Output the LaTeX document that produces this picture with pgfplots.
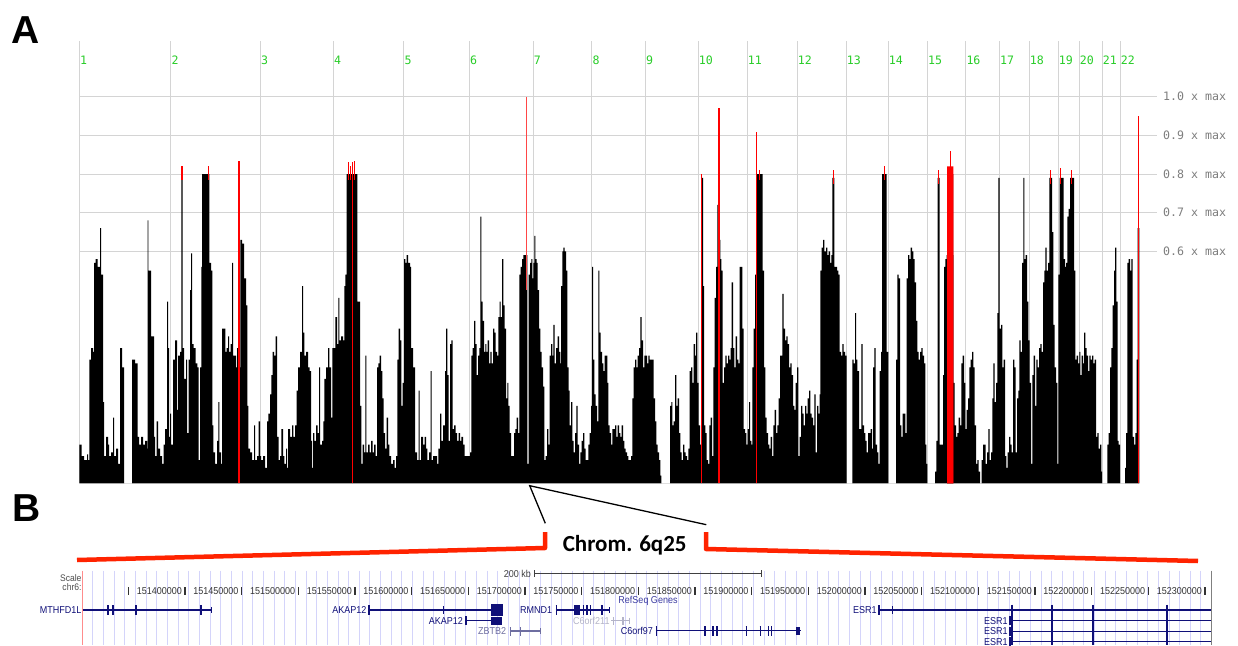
\documentclass[border=0pt]{standalone}
\usepackage{fontspec}
\usepackage{pgfplots}
\usepackage{pgfplotstable}
\pgfplotsset{compat=1.18}
\newfontfamily\monofont{DejaVu Sans Mono}
\newfontfamily\arialfont{Liberation Sans}
\newfontfamily\ucsc[FakeStretch=0.9]{Liberation Sans}
\newfontfamily\calfont{Carlito}
\definecolor{chrgreen}{RGB}{40,205,40}
\definecolor{gridgray}{RGB}{212,212,212}
\definecolor{tickgray}{RGB}{125,125,125}
\definecolor{darkred}{RGB}{140,0,0}
\definecolor{brred}{RGB}{255,35,0}
\definecolor{navy}{RGB}{16,16,120}
\definecolor{lav}{RGB}{212,212,250}
\definecolor{lightgene}{RGB}{180,180,200}
\definecolor{zbcol}{RGB}{110,110,160}
\definecolor{lightred}{RGB}{255,70,70}

\pgfplotstableread{
x y
79.3 0.10
81.5 0.07
84 0.06
87 0.075
88 0.06
89.3 0.32
91 0.35
93 0.34
94 0.57
95.5 0.58
97.5 0.56
100 0.66
101 0.54
103 0.21
104 0.07
106 0.12
108 0.10
109 0.07
111 0.08
113 0.17
114 0.07
116 0.09
118 0.05
120 0.35
122 0.30
124 0
132 0.32
135 0.31
137.5 0.12
139 0.10
141 0.12
143 0.10
145 0.11
147 0.09
147.7 0.68
148.3 0.55
151 0.38
154 0.12
155 0.07
156.7 0.16
158 0.09
160 0.07
162 0.05
163.5 0.10
165 0.14
167 0.47
168 0.35
169 0.12
170 0.18
171 0.10
173 0.32
175 0.37
177 0.19
178 0.33
180 0.34
181.3 0.80
182.7 0.35
184 0.27
186 0.32
187 0.13
188.7 0.32
190 0.50
191 0.595
192 0.36
193.7 0.35
195.7 0.31
197.3 0.30
198.7 0.06
200 0.30
201.3 0.56
202 0.80
209.3 0.57
211 0.55
212.3 0.15
213.3 0.08
215 0.05
217 0.11
218.3 0.21
219.3 0.08
221 0.05
222 0.40
224 0.40
225.3 0.34
226.7 0.35
228 0.38
229 0.34
230.7 0.36
232 0.57
233 0.33
234.3 0.33
236 0.30
237 0.35
238 0.30
240.3 0.63
242 0.62
244 0.53
246 0.46
247.3 0.20
248.3 0.09
250 0.08
252 0.06
254 0.15
255 0.06
257 0.07
258.7 0.16
260 0.07
261 0.06
263 0.07
265 0.04
267 0.16
268.3 0.18
270 0.23
271.3 0.28
272.7 0.34
274 0.33
275.7 0.38
277 0.12
278.7 0.06
280 0.07
281.3 0.14
283 0.07
284.3 0.05
286 0.09
287 0.04
288 0.14
290 0.12
292 0.15
293.3 0.12
295 0.15
296.7 0.24
298 0.30
300 0.34
302 0.51
303 0.39
304.3 0.33
306 0.34
308 0.30
309.7 0.29
311 0.11
312 0.04
313 0.13
314.3 0.11
316 0.15
317.7 0.13
319 0.30
320 0.10
322 0.11
323.3 0.16
324.3 0.27
326 0.30
328 0.35
329.3 0.30
331 0.17
332.3 0.35
334 0.35
335.3 0.43
337 0.36
338.3 0.48
339.3 0.37
341 0.38
343 0.37
344.3 0.51
345.3 0.54
346.7 0.80
357.3 0.47
360 0.20
361.3 0.05
362.7 0.10
364 0.08
365.3 0.33
366.3 0.08
368 0.10
369.7 0.08
371 0.11
372.7 0.08
374 0.10
375.7 0.07
377 0.30
378.3 0.31
379.7 0.33
381 0.29
382.3 0.22
383.7 0.13
385 0.09
386.7 0.17
388 0.10
389.3 0.07
391 0.05
393 0.06
394.7 0.04
396 0.07
397.3 0.32
398.7 0.40
400 0.37
401.3 0.20
402.7 0.26
404 0.58
405.3 0.57
406.7 0.59
408 0.57
410 0.56
411 0.35
413 0.30
415 0.08
417 0.06
418.7 0.24
419.7 0.06
421 0.12
423 0.10
424.7 0.12
426 0.09
427.3 0.06
429 0.08
430.7 0.29
431.7 0.06
433 0.07
435 0.07
437 0.05
438.3 0.09
440 0.18
441.3 0.11
443 0.15
445 0.29
446 0.40
447.3 0.28
448.7 0.11
450 0.36
451.3 0.37
452.7 0.14
454 0.15
455.7 0.13
457 0.11
458.7 0.13
460 0.11
461.3 0.12
463 0.10
464.7 0.07
466 0.07
467.3 0.07
469 0.07
470 0.08
471.3 0.33
472.7 0.35
474 0.42
475.3 0.36
476.7 0.28
478 0.33
479.3 0.35
480.3 0.69
481.3 0.47
482.7 0.42
484 0.34
485.3 0.36
486.3 0.34
487.7 0.37
489 0.31
490.3 0.34
491.7 0.31
493 0.40
494.3 0.39
495.7 0.34
497 0.33
498.3 0.43
499.7 0.47
500.7 0.43
502 0.58
503.3 0.46
504.7 0.40
506 0.22
507.3 0.26
508.3 0.20
509.7 0.13
511 0.07
512.7 0.07
514 0.13
515.3 0.14
516.7 0.17
518 0.13
519.3 0.54
520.7 0.56
522 0.58
523.3 0.59
524.7 0.59
526 0.59
527.3 0.05
528.7 0.54
530 0.57
531.3 0.58
532.3 0.53
533.3 0.57
534.3 0.64
535.3 0.58
536.7 0.57
537.7 0.50
539 0.40
540.3 0.34
541.7 0.30
543 0.25
544.3 0.06
545.7 0.07
547 0.14
548.3 0.10
549.7 0.33
551 0.36
552.3 0.33
553.3 0.41
554.7 0.31
556 0.35
557.7 0.38
559 0.34
560.3 0.31
561 0.51
562.3 0.60
563.3 0.61
564.7 0.60
566 0.55
567.3 0.30
568.7 0.24
569.7 0.15
571 0.21
572.3 0.11
573.7 0.08
575 0.13
576.3 0.20
577.7 0.10
579 0.05
580.3 0.08
581.7 0.11
583 0.13
584.3 0.09
585.7 0.06
587 0.06
588.3 0.10
589.7 0.13
591 0.20
592 0.56
593 0.32
594.3 0.23
595.7 0.20
597 0.16
598.3 0.55
599.3 0.39
600.7 0.34
602 0.31
603.3 0.29
604.7 0.33
606 0.33
607.3 0.26
608.3 0.15
609.7 0.13
611 0.10
612.3 0.14
613.7 0.14
615 0.15
616.3 0.12
617.7 0.15
619 0.13
620.3 0.12
621.7 0.15
623 0.11
624.3 0.09
625.7 0.08
627 0.07
628.3 0.06
629.7 0.06
631 0.07
632.3 0.22
633.7 0.30
635 0.32
636.3 0.30
637.7 0.33
639 0.35
640.3 0.43
641.7 0.37
643 0.30
644.3 0.33
645.7 0.33
647 0.31
648.3 0.33
649.7 0.32
651 0.32
652.3 0.32
653.7 0.22
655 0.16
656.3 0.10
657.7 0.08
659 0.06
660.3 0.02
661.3 0
670 0.20
671.3 0.21
672.3 0.15
673.7 0.16
675 0.28
676.3 0.20
677.7 0.22
679 0.13
680.3 0.08
681.7 0.06
683 0.10
684.3 0.08
685.7 0.07
687 0.06
688.3 0.09
689.7 0.29
691 0.30
692.3 0.26
693.7 0.36
695 0.33
696 0.39
697.3 0.26
698.7 0.15
700 0.10
702 0.79
703 0.51
704 0.15
705.3 0.13
706.7 0.06
708 0.05
709.3 0.15
710.7 0.17
712 0.07
713.3 0.30
714.7 0.48
716 0.56
717.3 0.72
718.7 0.63
720.3 0.58
721.3 0.55
722.7 0.26
724 0.30
725.3 0.33
726.7 0.31
728 0.33
729.3 0.32
730.7 0.35
731.7 0.52
733 0.35
734.3 0.30
735.7 0.38
737 0.32
738.3 0.31
739.7 0.56
741 0.56
742.3 0.40
743.7 0.14
745 0.13
746.3 0.10
747.7 0.14
749 0.21
750 0.11
751.3 0.10
752.3 0.30
753.7 0.40
755 0.54
756.3 0.60
757 0.80
762.7 0.55
764 0.30
765.3 0.17
766.7 0.13
768 0.10
769.3 0.09
770.7 0.12
772 0.07
773.3 0.15
774.7 0.19
776 0.13
777.3 0.15
778.7 0.22
780 0.33
781 0.33
782.3 0.49
783.7 0.40
785 0.37
786.3 0.38
787.7 0.36
789 0.30
790.3 0.31
791.7 0.28
793 0.20
794.3 0.19
795.7 0.26
797 0.30
798.3 0.07
799.7 0.12
801 0.20
802.3 0.18
803.7 0.15
805 0.20
806.3 0.18
807.7 0.22
809 0.24
810.3 0.18
811.7 0.17
813 0.15
814.3 0.23
815.7 0.08
817 0.20
818.3 0.18
819.7 0.23
820.3 0.55
821.7 0.61
823 0.63
824.3 0.60
826 0.61
827.3 0.59
828.7 0.60
830 0.57
831.3 0.59
832.3 0.79
834.3 0.56
835.7 0.56
837 0.55
838.3 0.54
839.7 0.34
841 0.33
842.3 0.36
843.7 0.34
845 0.33
846.7 0
852.3 0.32
853.7 0.31
855 0.44
856 0.32
857.3 0.29
859 0.14
860.3 0.14
861.3 0.36
862.7 0.15
864 0.13
865.3 0.11
866.7 0.08
868 0.13
869.3 0.13
870.7 0.14
872 0.09
873 0.30
874.3 0.35
875.7 0.10
877 0.08
878.3 0.05
879.7 0.29
881 0.34
882 0.80
886.7 0.34
888.3 0
896 0.32
897.3 0.54
898.7 0.53
900 0.15
901.3 0.12
902.7 0.18
904 0.18
905.3 0.13
906.7 0.53
908 0.59
909.3 0.58
910.7 0.61
912 0.60
913.3 0.58
914.7 0.52
916 0.42
917.3 0.34
918.7 0.32
920 0.34
921.3 0.35
922.7 0.33
924 0.31
925.3 0.10
926.3 0.05
927.3 0
935 0.03
936.3 0.11
937.7 0.79
939.5 0.10
941.7 0.10
943 0.28
944 0.56
945.3 0.58
946.7 0.59
953.3 0.26
954.7 0.15
956 0.12
957.3 0.13
958.7 0.17
960 0.15
961.3 0.31
962.7 0.33
964 0.26
965.3 0.14
966.7 0.19
968 0.22
969.3 0.30
970.7 0.32
972 0.34
973.3 0.30
974.7 0.15
976 0.05
977.3 0.06
978.7 0.03
980 0
981.7 0.06
983 0.10
984.3 0.10
985.7 0.05
987 0.08
988.3 0.14
989.7 0.06
991 0.08
992.3 0.22
993.3 0.31
994.7 0.21
996 0.26
997.3 0.44
998.3 0.79
999.7 0.40
1001 0.41
1002.3 0.30
1003.7 0.32
1005 0.07
1006.3 0.04
1007.7 0.08
1009 0.12
1010.3 0.10
1011.7 0.08
1013 0.32
1014.3 0.30
1015.7 0.08
1017 0.22
1018.3 0.24
1019.3 0.37
1020.7 0.34
1022 0.57
1023.3 0.79
1024.3 0.58
1025.7 0.59
1027 0.47
1028.3 0.37
1029.7 0.26
1031 0.05
1032.3 0.28
1033.7 0.33
1035 0.20
1036.3 0.32
1037.7 0.30
1039 0.35
1040.3 0.36
1041.7 0.34
1043 0.52
1044.3 0.55
1045.3 0.61
1046.7 0.55
1048 0.57
1049.3 0.79
1052 0.65
1053.3 0.41
1054.7 0.30
1056 0.26
1057.3 0.05
1058.3 0.54
1059.7 0.79
1063.7 0.58
1065 0.56
1066 0.57
1067.3 0.69
1068.7 0.71
1070 0.79
1074 0.55
1075.3 0.32
1076.7 0.33
1078 0.31
1079.3 0.34
1080.3 0.28
1081.7 0.33
1083 0.31
1084 0.39
1085.3 0.35
1086.7 0.33
1088 0.29
1089.3 0.33
1090.7 0.32
1092 0.33
1093.3 0.31
1094.7 0.32
1096 0.12
1097.3 0.13
1098.7 0.09
1100 0.10
1101.3 0.03
1102 0
1107.3 0.10
1108.7 0.13
1110 0.30
1111.3 0.35
1112.7 0.46
1114 0.55
1115 0.61
1116.3 0.47
1117.7 0.11
1118.7 0.10
1120 0
1125 0.04
1126 0.13
1127.3 0.57
1128.7 0.58
1130 0.55
1131.3 0.58
1132.7 0.12
1134 0.10
1135.3 0.13
1136.7 0.32
1137.7 0.66
1139.3 0
}\genome

\pgfplotstableread{
x y
239 0.835
352.3 0.83
701.3 0.80
719 0.97
756.6 0.91
1138.3 0.95
}\redlines

\begin{document}
\begin{tikzpicture}[x=1pt,y=1pt]
% ---------------- Panel A ----------------
\begin{axis}[
  at={(79pt,161.7pt)}, anchor=south west,
  scale only axis, width=1078pt, height=442.6pt,
  xmin=79, xmax=1157, ymin=0, ymax=1.145,
  enlargelimits=false, clip=false,
  axis line style={draw=none},
  major tick length=0pt,
  xtick={79.3,170.7,260.3,333.3,403.7,469.3,533,591.7,645.3,698,747,797,846,888,927.3,965.7,999.3,1029,1058,1079,1102,1120},
  xticklabels={},
  ytick={0.6,0.7,0.8,0.9,1.0},
  yticklabels={0.6 x max,0.7 x max,0.8 x max,0.9 x max,1.0 x max},
  yticklabel pos=right,
  yticklabel style={font=\monofont\fontsize{11.6}{12}\selectfont, text=tickgray, anchor=west, inner sep=0pt, xshift=6pt},
  xmajorgrids, ymajorgrids,
  grid style={color=gridgray, line width=1pt},
]
\addplot[const plot mark left, fill=black, draw=none] table[x=x,y=y]{\genome} \closedcycle;
% red tips on the top of saturated peaks
\addplot[red, line width=1.2pt] coordinates {(181.9,0.785) (181.9,0.82)};
\addplot[red, line width=1.2pt] coordinates {(208.3,0.785) (208.3,0.82)};
\addplot[red, line width=1.2pt] coordinates {(348.6,0.785) (348.6,0.83)};
\addplot[red, line width=1.0pt] coordinates {(350.5,0.785) (350.5,0.82)};
\addplot[red, line width=1.2pt] coordinates {(354.6,0.785) (354.6,0.835)};
\addplot[red, line width=1.0pt] coordinates {(759.2,0.785) (759.2,0.81)};
\addplot[red, line width=1.0pt] coordinates {(833.3,0.775) (833.3,0.81)};
\addplot[red, line width=1.2pt] coordinates {(884.2,0.785) (884.2,0.82)};
\addplot[red, line width=1.0pt] coordinates {(938.4,0.775) (938.4,0.81)};
\addplot[red, line width=1.0pt] coordinates {(1050.4,0.775) (1050.4,0.81)};
\addplot[red, line width=1.0pt] coordinates {(1060.8,0.775) (1060.8,0.815)};
\addplot[red, line width=1.0pt] coordinates {(1071.7,0.775) (1071.7,0.81)};
% chromosome 15 dark red block
\addplot[fill=darkred, draw=none] coordinates {(947,0) (947,0.80) (953.3,0.80) (953.3,0)} \closedcycle;
\addplot[fill=red, draw=none] coordinates {(947,0.79) (947,0.82) (953.3,0.82) (953.3,0.79)} \closedcycle;
\addplot[red, line width=1.2pt] coordinates {(950.2,0.79) (950.2,0.86)};
% full-height red lines
\addplot[ycomb, red, line width=1.5pt, mark=none] table[x=x,y=y]{\redlines};
\addplot[lightred, line width=1.3pt] coordinates {(526.3,0.50) (526.3,1.0)};
% chromosome labels
\foreach \cx/\cl in {79.3/1,170.7/2,260.3/3,333.3/4,403.7/5,469.3/6,533/7,591.7/8,645.3/9,698/10,747/11,797/12,846/13,888/14,927.3/15,965.7/16,999.3/17,1029/18,1058/19,1079/20,1102/21,1120/22}{
  \edef\temp{\noexpand\node[anchor=west, inner sep=0.6pt, text=chrgreen, font=\noexpand\monofont\noexpand\fontsize{11.6}{12}\noexpand\selectfont] at (axis cs:\cx,1.095) {\cl};}
  \temp
}
\end{axis}
% ---------------- Panel B ----------------
\begin{axis}[
  at={(82.3pt,0pt)}, anchor=south west,
  scale only axis, width=1129.4pt, height=74.3pt,
  xmin=309.4, xmax=1305.9, ymin=570.7, ymax=645, y dir=reverse,
  enlargelimits=false, clip=false,
  axis line style={draw=none},
  xtick={318.8,328.2,...,1305},
  xticklabels={},
  ytick=\empty,
  major tick length=0pt,
  xmajorgrids,
  grid style={color=lav, line width=1pt},
]
% left pink and right gray borders
\addplot[color={rgb,255:red,255;green,140;blue,140}, line width=1pt] coordinates {(309.6,570.7) (309.6,645)};
\addplot[color=gray, line width=1pt] coordinates {(1305.6,570.7) (1305.6,645)};
% scale bar
\addplot[color=black!75, line width=1pt] coordinates {(708.6,574) (908.5,574)};
\addplot[color=black!75, line width=1pt] coordinates {(708.6,570.5) (708.6,577.5)};
\addplot[color=black!75, line width=1pt] coordinates {(908.5,570.5) (908.5,577.5)};
% MTHFD1L
\addplot[navy, line width=1.1pt] coordinates {(310.0,610) (423.6,610)};
\addplot[navy, line width=10pt] coordinates {(331.4,610) (333.2,610)};
\addplot[navy, line width=10pt] coordinates {(335.6,610) (337.4,610)};
\addplot[navy, line width=10pt] coordinates {(355.9,610) (357.4,610)};
\addplot[navy, line width=10pt] coordinates {(413.2,610) (415.0,610)};
\addplot[navy, line width=1pt] coordinates {(423.4,607) (423.4,613)};
% AKAP12 row 1
\addplot[navy, line width=1.1pt] coordinates {(561.7,610) (680.6,610)};
\addplot[navy, line width=10pt] coordinates {(561.7,610) (563.5,610)};
\addplot[navy, line width=8pt] coordinates {(627.6,610) (628.6,610)};
\addplot[navy, line width=12pt] coordinates {(670.3,610) (680.6,610)};
% AKAP12 row 2
\addplot[navy, line width=1.1pt] coordinates {(647.1,620.7) (670.3,620.7)};
\addplot[navy, line width=9pt] coordinates {(647.1,620.7) (648.8,620.7)};
\addplot[navy, line width=8pt] coordinates {(670.3,620.5) (679.3,620.5)};
% ZBTB2
\addplot[zbcol, line width=1.1pt] coordinates {(686.5,631) (713.9,631)};
\addplot[zbcol, line width=9pt] coordinates {(686.5,631) (687.6,631)};
\addplot[zbcol, line width=9pt] coordinates {(695.3,631) (696.5,631)};
\addplot[zbcol, line width=1pt] coordinates {(713.7,628) (713.7,634)};
% RMND1
\addplot[navy, line width=1.1pt] coordinates {(727.1,610) (774.7,610)};
\addplot[navy, line width=10pt] coordinates {(727.1,610) (728.3,610)};
\addplot[navy, line width=10pt] coordinates {(743.0,610) (748.3,610)};
\addplot[navy, line width=10pt] coordinates {(750.9,610) (752.1,610)};
\addplot[navy, line width=10pt] coordinates {(754.1,610) (755.4,610)};
\addplot[navy, line width=10pt] coordinates {(757.1,610) (758.2,610)};
\addplot[navy, line width=10pt] coordinates {(766.8,610) (768.8,610)};
\addplot[navy, line width=1pt] coordinates {(774.5,607) (774.5,613)};
% C6orf211
\addplot[lightgene, line width=1.1pt] coordinates {(776.1,620.7) (792.4,620.7)};
\addplot[lightgene, line width=8pt] coordinates {(777.3,620.7) (778.3,620.7)};
\addplot[lightgene, line width=8pt] coordinates {(786,620.7) (787,620.7)};
\addplot[lightgene, line width=1pt] coordinates {(792.2,617.7) (792.2,623.7)};
% C6orf97
\addplot[navy, line width=1.1pt] coordinates {(815.3,630.7) (943.8,630.7)};
\addplot[navy, line width=10pt] coordinates {(815.3,630.7) (816.5,630.7)};
\addplot[navy, line width=10pt] coordinates {(858.0,630.7) (860.0,630.7)};
\addplot[navy, line width=10pt] coordinates {(865.0,630.7) (866.8,630.7)};
\addplot[navy, line width=10pt] coordinates {(868.6,630.7) (870.3,630.7)};
\addplot[navy, line width=10pt] coordinates {(894.7,630.7) (895.6,630.7)};
\addplot[navy, line width=10pt] coordinates {(907.1,630.7) (908.0,630.7)};
\addplot[navy, line width=10pt] coordinates {(914.4,630.7) (915.3,630.7)};
\addplot[navy, line width=10pt] coordinates {(917.3,630.7) (918.2,630.7)};
\addplot[navy, line width=8pt] coordinates {(939.4,630.7) (943.0,630.7)};
% ESR1 row 1
\addplot[navy, line width=1.1pt] coordinates {(1011.8,610) (1305.6,610)};
\addplot[navy, line width=10pt] coordinates {(1011.8,610) (1012.8,610)};
\addplot[navy, line width=8pt] coordinates {(1023.6,610) (1025.0,610)};
% ESR1 rows 2-4
\addplot[navy, line width=1.1pt] coordinates {(1127.1,620.7) (1305.6,620.7)};
\addplot[navy, line width=1.1pt] coordinates {(1127.1,631.3) (1305.6,631.3)};
\addplot[navy, line width=1.1pt] coordinates {(1127.1,641.7) (1305.6,641.7)};
\addplot[navy, line width=9pt] coordinates {(1127.1,620.7) (1128.8,620.7)};
\addplot[navy, line width=9pt] coordinates {(1127.1,631.3) (1128.8,631.3)};
\addplot[navy, line width=9pt] coordinates {(1127.1,641.7) (1128.8,641.7)};
% tall shared exons
\addplot[navy, line width=2pt] coordinates {(1129.8,604.7) (1129.8,645)};
\addplot[navy, line width=2pt] coordinates {(1164.7,604.7) (1164.7,645)};
\addplot[navy, line width=2pt] coordinates {(1201.4,604.7) (1201.4,645)};
\addplot[navy, line width=2pt] coordinates {(1266.2,604.7) (1266.2,645)};
\end{axis}

% ---------------- Annotations ----------------
\node[anchor=north west, inner sep=0pt, font=\arialfont\bfseries\fontsize{39}{40}\selectfont] at (11,629) {A};
\node[anchor=north west, inner sep=0pt, font=\arialfont\bfseries\fontsize{39}{40}\selectfont] at (12,151) {B};
% callout
\draw[black, line width=1.3pt] (545.3,121.7) -- (529.7,159.3) -- (706.3,120.3);
\draw[brred, line width=4.5pt, line join=round] (77,85) -- (545,97) -- (545,113);
\draw[brred, line width=4.5pt, line join=round] (706,113) -- (706,96) -- (1198,84);
\node[font=\calfont\bfseries\fontsize{23}{24}\selectfont] at (624.7,99.3) {Chrom. 6q25};
% UCSC labels
\node[anchor=east, inner sep=0pt, text=black!70, font=\ucsc\fontsize{9.5}{10}\selectfont] at (81.7,67.2) {Scale};
\node[anchor=east, inner sep=0pt, text=black!70, font=\ucsc\fontsize{9.5}{10}\selectfont] at (81.7,58.3) {chr6:};
\node[anchor=east, inner sep=0pt, text=black!75, font=\ucsc\fontsize{10}{11}\selectfont] at (531,71) {200 kb};
\draw[black!80, line width=1.1pt] (128.3,50.5) -- (128.3,58.5);
\foreach \px/\lab in {185/151400000,241.7/151450000,298.3/151500000,355/151550000,411.7/151600000,468.3/151650000,525/151700000,581.7/151750000,638.3/151800000,695/151850000,751.7/151900000,808.3/151950000,865/152000000,921.7/152050000,978.3/152100000,1035/152150000,1091.7/152200000,1148.3/152250000,1205/152300000}{
  \node[anchor=east, inner sep=0pt, text=black!80, font=\ucsc\fontsize{10}{11}\selectfont] at (\px-3,54.3) {\lab};
  \draw[black!80, line width=1.1pt] (\px,50.5) -- (\px,58.5);
}
\node[anchor=center, inner sep=0pt, text={rgb,255:red,60;green,60;blue,160}, font=\ucsc\fontsize{10}{11}\selectfont] at (648,44.3) {RefSeq Genes};
\node[anchor=east, inner sep=0pt, text=navy, font=\ucsc\fontsize{10}{11}\selectfont] at (81.7,35) {MTHFD1L};
\node[anchor=east, inner sep=0pt, text=navy, font=\ucsc\fontsize{10}{11}\selectfont] at (366.7,35) {AKAP12};
\node[anchor=east, inner sep=0pt, text=navy, font=\ucsc\fontsize{10}{11}\selectfont] at (463,24.3) {AKAP12};
\node[anchor=east, inner sep=0pt, text=zbcol, font=\ucsc\fontsize{10}{11}\selectfont] at (506.3,14) {ZBTB2};
\node[anchor=east, inner sep=0pt, text=navy, font=\ucsc\fontsize{10}{11}\selectfont] at (552.3,35) {RMND1};
\node[anchor=east, inner sep=0pt, text=lightgene, font=\ucsc\fontsize{10}{11}\selectfont] at (609.7,24.3) {C6orf211};
\node[anchor=east, inner sep=0pt, text=navy, font=\ucsc\fontsize{10}{11}\selectfont] at (653,14.3) {C6orf97};
\node[anchor=east, inner sep=0pt, text=navy, font=\ucsc\fontsize{10}{11}\selectfont] at (876.7,35) {ESR1};
\node[anchor=east, inner sep=0pt, text=navy, font=\ucsc\fontsize{10}{11}\selectfont] at (1007.7,24.3) {ESR1};
\node[anchor=east, inner sep=0pt, text=navy, font=\ucsc\fontsize{10}{11}\selectfont] at (1007.7,13.7) {ESR1};
\node[anchor=east, inner sep=0pt, text=navy, font=\ucsc\fontsize{10}{11}\selectfont] at (1007.7,3.3) {ESR1};
\pgfresetboundingbox
\useasboundingbox (0,0) rectangle (1238,645);
\end{tikzpicture}
\end{document}
